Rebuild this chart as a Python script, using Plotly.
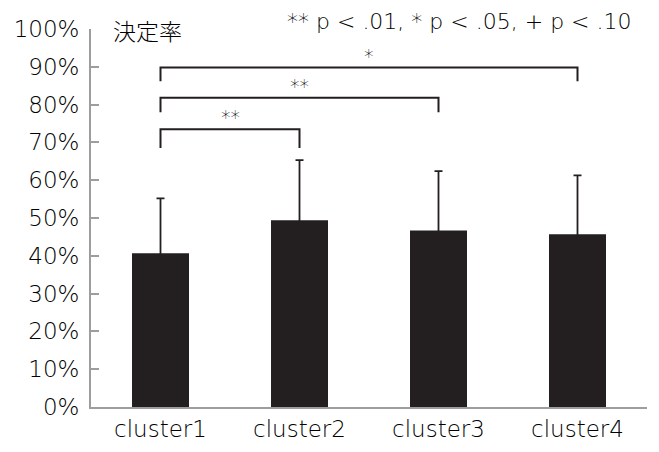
import plotly.graph_objects as go

categories = ["cluster1", "cluster2", "cluster3", "cluster4"]
means = [40.7, 49.4, 46.7, 45.7]
sd_plus = [14.5, 15.9, 15.7, 15.6]

y_tick_vals = [0, 10, 20, 30, 40, 50, 60, 70, 80, 90, 100]
y_tick_text = ["0%", "10%", "20%", "30%", "40%", "50%", "60%", "70%", "80%", "90%", "100%"]

# significance comparisons: (from, to, bracket height %, label)
comp_from = ["cluster1", "cluster1", "cluster1"]
comp_to = ["cluster2", "cluster3", "cluster4"]
comp_height = [73.5, 81.8, 89.8]
comp_drop = [5.0, 3.8, 3.6]
comp_label = ["**", "**", "*"]

title_text = "決定率"
note_text = "** p < .01, * p < .05, + p < .10"

DARK = "#231f20"
TEXT = "#000000"
GRAY = "#9d9d9d"
FONT = "DejaVu Sans ExtraLight, DejaVu Sans Light, DejaVu Sans"
CJK = "Noto Sans CJK JP Light, Noto Sans CJK JP DemiLight, Noto Sans CJK JP"

fig = go.Figure()
fig.add_trace(go.Bar(
    x=categories, y=means, width=0.41,
    marker=dict(color=DARK, line=dict(width=0)),
    showlegend=False, hoverinfo="skip",
))
# upper error bars only; the lower cap is kept hidden inside the dark bar
fig.add_trace(go.Scatter(
    x=categories, y=means, mode="markers", marker=dict(size=0.1, color=DARK, opacity=0),
    error_y=dict(type="data", array=sd_plus, symmetric=False,
                 arrayminus=[2] * len(means), color=DARK, thickness=1.8, width=4),
    showlegend=False, hoverinfo="skip",
))

annotations = []
idx = {c: i for i, c in enumerate(categories)}
for a, b, h, d, lab in zip(comp_from, comp_to, comp_height, comp_drop, comp_label):
    fig.add_trace(go.Scatter(
        x=[a, a, b, b], y=[h - d, h, h, h - d], mode="lines",
        line=dict(color=DARK, width=2), showlegend=False, hoverinfo="skip",
        cliponaxis=False,
    ))
    mid = (idx[a] + idx[b]) / 2
    annotations.append(dict(x=mid, y=h, xref="x", yref="y", text=lab, showarrow=False,
                            yanchor="bottom", yshift=-1,
                            font=dict(family=FONT, size=19, color=TEXT)))

annotations.append(dict(x=(111 - 91) / (647 - 91), y=(407 - 30) / (407 - 29),
                        xref="paper", yref="paper", text=title_text, showarrow=False,
                        xanchor="left", yanchor="middle",
                        font=dict(family=CJK, size=23, color=TEXT)))
annotations.append(dict(x=(634 - 91) / (647 - 91), y=(407 - 21) / (407 - 29),
                        xref="paper", yref="paper", text=note_text, showarrow=False,
                        xanchor="right", yanchor="middle",
                        font=dict(family=FONT, size=22, color=TEXT)))

# the page body has an 8px margin, so the figure is 8px smaller and starts at (8, 8)
fig.update_layout(
    width=651, height=444,
    margin=dict(l=83, r=12, t=21, b=45, autoexpand=False),
    paper_bgcolor="white", plot_bgcolor="white",
    font=dict(family=FONT, color=TEXT, size=22),
    annotations=annotations,
)
fig.update_xaxes(
    showline=True, linecolor=GRAY, linewidth=2, ticks="", showgrid=False,
    automargin=False,
    tickfont=dict(family=FONT, size=23, color=TEXT),
)
fig.update_yaxes(
    range=[0, 100], tickvals=y_tick_vals, ticktext=y_tick_text,
    showline=True, linecolor=GRAY, linewidth=2, ticks="inside", ticklen=8,
    tickcolor=GRAY, tickwidth=1.5, showgrid=False, zeroline=False,
    automargin=False,
    tickfont=dict(family=FONT, size=23, color=TEXT), ticklabelstandoff=5,
)

fig.write_html("out.html")
